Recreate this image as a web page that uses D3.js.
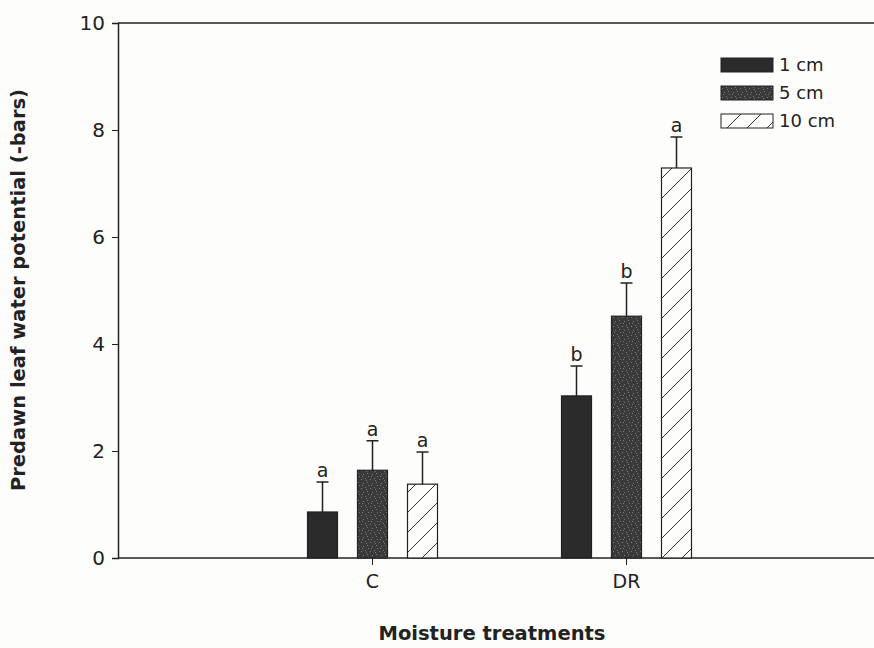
<!DOCTYPE html>
<html>
<head>
<meta charset="utf-8">
<script src="https://cdn.jsdelivr.net/npm/d3@7"></script>
<style>
  body { margin: 0; background: #fdfdfb; }
  svg text { font-family: "DejaVu Sans", sans-serif; fill: #222; }
</style>
</head>
<body>
<svg id="chart" width="874" height="648"></svg>
<script>
const treatments = ['C', 'DR'];
const depths = ['1 cm', '5 cm', '10 cm'];
// values per treatment, in depth order
const means = [[0.86, 1.64, 1.38], [3.03, 4.52, 7.29]];
const errors = [[0.56, 0.55, 0.6], [0.56, 0.62, 0.58]];
const letters = [['a', 'a', 'a'], ['b', 'b', 'a']];
const yTicks = [0, 2, 4, 6, 8, 10];

const svg = d3.select('#chart');
const width = 874;

const x = d3.scalePoint()
  .domain(treatments)
  .range([372, 626]);

const inner = d3.scaleBand()
  .domain(depths)
  .range([-77, 78])
  .paddingInner(0.4)
  .paddingOuter(0.25);

const y = d3.scaleLinear()
  .domain([0, 10])
  .range([558, 23]);

const defs = svg.append('defs');

// stipple for 5 cm
const stip = defs.append('pattern')
  .attr('id', 'stipple')
  .attr('patternUnits', 'userSpaceOnUse')
  .attr('width', 9).attr('height', 9);
stip.append('rect').attr('width', 9).attr('height', 9).attr('fill', '#3a3a3a');
[[1, 2], [5, 1], [3, 6], [7, 5], [8, 8], [2, 8], [6, 3]].forEach(p => {
  stip.append('rect').attr('x', p[0]).attr('y', p[1]).attr('width', 1).attr('height', 1)
    .attr('fill', '#7a7a7a');
});

// hatch for 10 cm
const hatch = defs.append('pattern')
  .attr('id', 'hatch')
  .attr('patternUnits', 'userSpaceOnUse')
  .attr('width', 20).attr('height', 20);
hatch.append('rect').attr('width', 20).attr('height', 20).attr('fill', '#fdfdfb');
hatch.append('path')
  .attr('d', 'M0,20 L20,0 M-5,5 L5,-5 M15,25 L25,15')
  .attr('stroke', '#333').attr('stroke-width', 1);

const fills = {'1 cm': '#2b2b2b', '5 cm': 'url(#stipple)', '10 cm': 'url(#hatch)'};

// frame top line
svg.append('line')
  .attr('x1', 118).attr('x2', width)
  .attr('y1', y(10)).attr('y2', y(10))
  .attr('stroke', '#222').attr('stroke-width', 1.5);

// y axis
const yAxis = svg.append('g')
  .attr('transform', 'translate(118,0)')
  .call(d3.axisLeft(y).tickValues(yTicks).tickSize(6).tickPadding(7).tickFormat(d3.format('d')));
yAxis.attr('font-family', null).attr('font-size', null);
yAxis.select('.domain').attr('stroke', '#222').attr('stroke-width', 1.5);
yAxis.selectAll('.tick line').attr('stroke', '#222');
yAxis.selectAll('.tick text').style('font-size', '20px');

// x axis
const xAxis = svg.append('g')
  .attr('transform', 'translate(0,558)')
  .call(d3.axisBottom(x).tickSize(7).tickPadding(10));
xAxis.attr('font-family', null).attr('font-size', null);
xAxis.select('.domain').remove();
xAxis.append('line').attr('x1', 118).attr('x2', width)
  .attr('stroke', '#222').attr('stroke-width', 1.5);
xAxis.selectAll('.tick line').attr('stroke', '#222');
xAxis.selectAll('.tick text').style('font-size', '19px');

// bars
const rows = [];
treatments.forEach((t, i) => depths.forEach((dp, j) => {
  rows.push({t, dp, v: means[i][j], e: errors[i][j], l: letters[i][j]});
}));

const g = svg.append('g');
const bx = d => x(d.t) + inner(d.dp);

g.selectAll('rect.bar')
  .data(rows)
  .join('rect')
  .attr('class', 'bar')
  .attr('x', bx)
  .attr('y', d => y(d.v))
  .attr('width', inner.bandwidth())
  .attr('height', d => y(0) - y(d.v))
  .attr('fill', d => fills[d.dp])
  .attr('stroke', '#222')
  .attr('stroke-width', 1.2);

// error bars
g.selectAll('path.err')
  .data(rows)
  .join('path')
  .attr('class', 'err')
  .attr('d', d => {
    const cx = bx(d) + inner.bandwidth() / 2;
    return `M${cx},${y(d.v)}V${y(d.v + d.e)}M${cx - 6},${y(d.v + d.e)}H${cx + 6}`;
  })
  .attr('stroke', '#222')
  .attr('stroke-width', 1.5)
  .attr('fill', 'none');

g.selectAll('text.letter')
  .data(rows)
  .join('text')
  .attr('class', 'letter')
  .attr('x', d => bx(d) + inner.bandwidth() / 2)
  .attr('y', d => y(d.v + d.e) - 5)
  .attr('text-anchor', 'middle')
  .style('font-size', '19px')
  .text(d => d.l);

// legend
const legend = svg.append('g').attr('transform', 'translate(721,58)');
const li = legend.selectAll('g')
  .data(depths)
  .join('g')
  .attr('transform', (d, i) => `translate(0,${i * 28})`);
li.append('rect')
  .attr('width', 52).attr('height', 14)
  .attr('fill', d => fills[d])
  .attr('stroke', '#222').attr('stroke-width', 1);
li.append('text')
  .attr('x', 58).attr('y', 7).attr('dy', '0.36em')
  .style('font-size', '18px')
  .text(d => d);

// axis titles
svg.append('text')
  .attr('transform', 'translate(25,290) rotate(-90)')
  .attr('text-anchor', 'middle')
  .style('font-size', '19.5px').style('font-weight', 'bold')
  .text('Predawn leaf water potential (-bars)');

svg.append('text')
  .attr('x', 492).attr('y', 640)
  .attr('text-anchor', 'middle')
  .style('font-size', '19.5px').style('font-weight', 'bold')
  .text('Moisture treatments');
</script>
</body>
</html>
